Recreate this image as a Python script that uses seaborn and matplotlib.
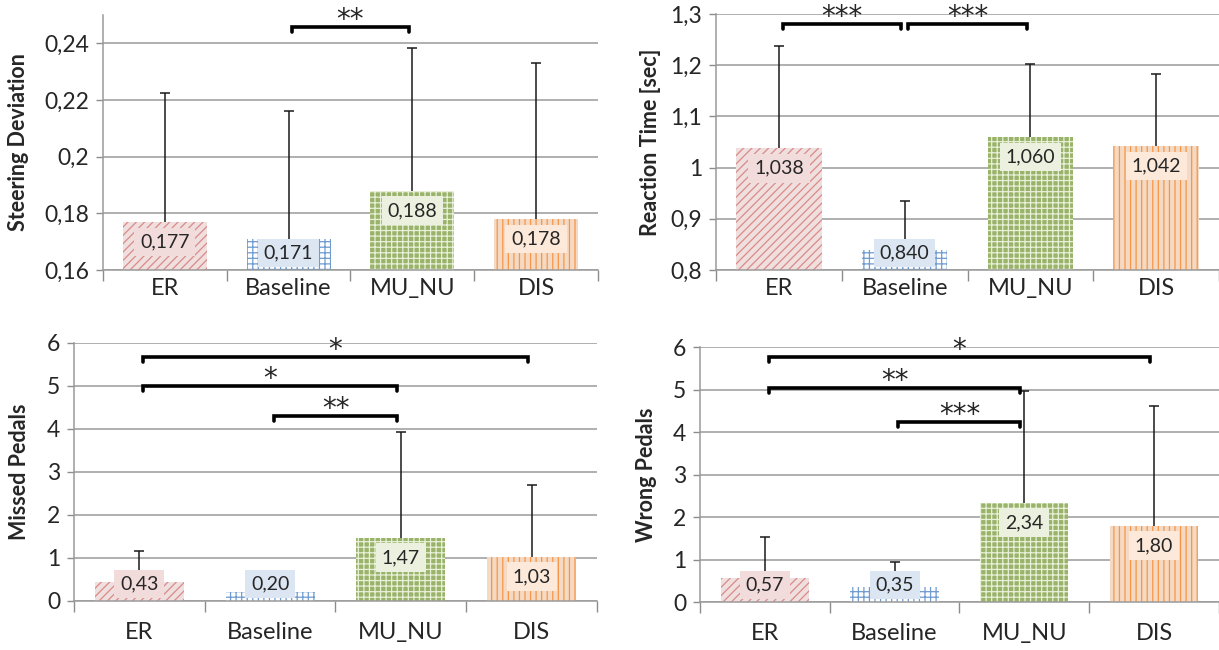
import numpy as np
import seaborn as sns
import matplotlib.pyplot as plt
from matplotlib.ticker import FixedLocator

sns.set_style("white")
plt.rcParams['font.family'] = ['Lato', 'DejaVu Sans']
plt.rcParams['hatch.linewidth'] = 0.9

cats = ["ER", "Baseline", "MU_NU", "DIS"]

steer_mean = [0.177, 0.171, 0.188, 0.178]
steer_err = [0.0455, 0.045, 0.0505, 0.055]
rt_mean = [1.038, 0.840, 1.060, 1.042]
rt_err = [0.199, 0.095, 0.143, 0.141]
missed_mean = [0.43, 0.20, 1.47, 1.03]
missed_err = [0.73, 0.35, 2.46, 1.67]
wrong_mean = [0.57, 0.35, 2.34, 1.80]
wrong_err = [0.97, 0.60, 2.64, 2.82]

steer_ticks = [0.16, 0.18, 0.20, 0.22, 0.24]
steer_ticklabels = ["0,16", "0,18", "0,2", "0,22", "0,24"]
rt_ticks = [0.8, 0.9, 1.0, 1.1, 1.2, 1.3]
rt_ticklabels = ["0,8", "0,9", "1", "1,1", "1,2", "1,3"]
count_ticks = [0, 1, 2, 3, 4, 5, 6]
count_ticklabels = ["0", "1", "2", "3", "4", "5", "6"]

# significance brackets: (from, to, height, stars)
steer_sig = [(1, 2, 0.2457, "**")]
rt_sig = [(0, 1, 1.281, "***"), (1, 2, 1.281, "***")]
missed_sig = [(0, 3, 5.67, "*"), (0, 2, 5.0, "*"), (1, 2, 4.30, "**")]
wrong_sig = [(0, 3, 5.76, "*"), (0, 2, 5.03, "**"), (1, 2, 4.24, "***")]

face = {"ER": "#F2DCDB", "Baseline": "#FFFFFF", "MU_NU": "#9EBF5E", "DIS": "#FCD9BC"}
hatch_col = {"ER": "#DB8A88", "Baseline": "#6F9BD1", "MU_NU": "#E8F0D8", "DIS": "#F79646"}
hatches = {"ER": "////", "Baseline": "+++", "MU_NU": "+++", "DIS": "|||"}
box_col = {"ER": "#F2DCDB", "Baseline": "#DCE6F2", "MU_NU": "#EBF1DE", "DIS": "#FDE9D9"}

fig = plt.figure(figsize=(12.19, 6.5), dpi=100)

panels = [
    ([0.0845, 0.5846, 0.406, 0.3923], steer_mean, steer_err, (0.16, 0.25), steer_ticks,
     steer_ticklabels, "Steering Deviation", "{:.3f}", steer_sig, -0.15, 6),
    ([0.5874, 0.5846, 0.4126, 0.3938], rt_mean, rt_err, (0.8, 1.3), rt_ticks,
     rt_ticklabels, "Reaction Time [sec]", "{:.3f}", rt_sig, -0.11, 6),
    ([0.0607, 0.0754, 0.429, 0.397], missed_mean, missed_err, (0, 6), count_ticks,
     count_ticklabels, "Missed Pedals", "{:.2f}", missed_sig, -0.085, 15),
    ([0.5742, 0.0738, 0.4258, 0.392], wrong_mean, wrong_err, (0, 6), count_ticks,
     count_ticklabels, "Wrong Pedals", "{:.2f}", wrong_sig, -0.083, 15),
]

for pos, means, errs, ylim, ticks, ticklabels, ylabel, fmt, sigs, labx, xpad in panels:
    ax = fig.add_axes(pos)
    sns.barplot(x=cats, y=means, hue=cats, palette=face, legend=False,
                width=0.68, errorbar=None, ax=ax, zorder=2)
    for patch, c in zip(ax.patches, cats):
        patch.set_hatch(hatches[c])
        patch.set_edgecolor(hatch_col[c])
        patch.set_linewidth(0)
    eb = ax.errorbar(range(len(cats)), means, yerr=[np.zeros(len(errs)), errs], fmt='none',
                     ecolor='#1a1a1a', elinewidth=1.1, capsize=3.5, capthick=1.1, zorder=3)
    eb[1][0].set_visible(False)  # no cap at the bar top
    ax.set_xlim(-0.5, 3.5)
    ax.set_ylim(*ylim)
    ax.set_yticks(ticks)
    ax.set_yticklabels(ticklabels, fontsize=16.5)
    ax.tick_params(axis='x', length=0, labelsize=17, pad=xpad)
    ax.tick_params(axis='y', length=5, color='#8c8c8c', width=1, left=True, pad=5)
    ax.xaxis.set_minor_locator(FixedLocator([-0.5, 0.5, 1.5, 2.5, 3.5]))
    ax.tick_params(axis='x', which='minor', length=8, color='#8c8c8c', width=1, bottom=True)
    ax.grid(axis='y', color='#9a9a9a', linewidth=1.1, zorder=0)
    ax.set_axisbelow(True)
    for s in ['top', 'right']:
        ax.spines[s].set_visible(False)
    for s in ['left', 'bottom']:
        ax.spines[s].set_color('#9a9a9a')
        ax.spines[s].set_linewidth(1.1)
    ax.set_ylabel(ylabel, fontsize=15.5, fontweight='bold')
    ax.yaxis.set_label_coords(labx, 0.5)

    ppu = fig.get_figheight() * fig.dpi * pos[3] / (ylim[1] - ylim[0])
    for i, (c, v) in enumerate(zip(cats, means)):
        ly = max(v - 20 / ppu, ylim[0] + 17 / ppu)
        ax.text(i, ly, fmt.format(v).replace('.', ','), ha='center', va='center',
                fontsize=14, zorder=5,
                bbox=dict(boxstyle='square,pad=0.3', fc=box_col[c], ec='none'))

    d = 5 / ppu
    for a, b, y, stars in sigs:
        x1, x2 = a + 0.03, b - 0.03
        ax.plot([x1, x1, x2, x2], [y - d, y, y, y - d], color='black', lw=2.6,
                solid_joinstyle='miter', clip_on=False, zorder=6)
        ax.text((x1 + x2) / 2, y - 1 / ppu, stars, ha='center', va='baseline',
                fontsize=20, family='DejaVu Sans', zorder=6, clip_on=False)

fig.savefig("out.png", dpi=100)
